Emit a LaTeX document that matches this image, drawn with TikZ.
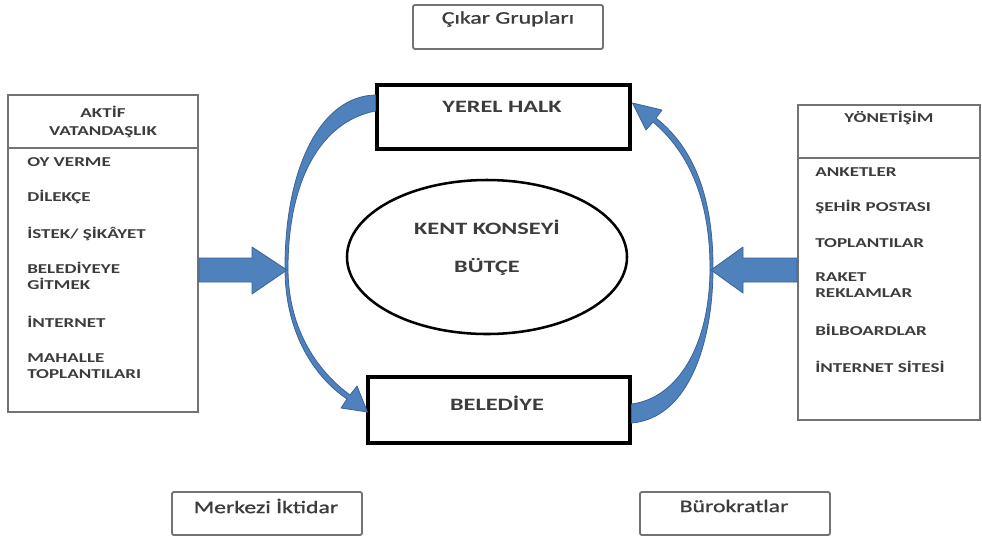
\documentclass[tikz,border=0pt]{standalone}
\usepackage{fontspec}
\setmainfont{Carlito}[FakeStretch=1.4]
\newfontfamily\mixfam{Carlito}[FakeStretch=1.35,FakeBold=1.2]
\usetikzlibrary{fit,calc,shapes.geometric}
\definecolor{ablue}{HTML}{4F81BD}
\definecolor{ablueedge}{HTML}{3A6397}
\definecolor{txt}{HTML}{3C3C3C}
\newcommand\itemfont{\fontsize{10.2}{12}\selectfont\bfseries}
\newcommand\headfont{\fontsize{10.2}{14}\selectfont\bfseries}
\newcommand\bigfont{\fontsize{13}{15}\selectfont\bfseries}
\newcommand\mixfont{\mixfam\fontsize{13.2}{15}\selectfont}
\tikzset{
  gbox/.style={draw=black!55, line width=1.4pt, inner sep=0pt},
  obox/.style={gbox, rounded corners=1.5pt},
  kbox/.style={draw=black, line width=2.3pt, inner sep=0pt},
  item/.style={anchor=west, inner sep=0pt, align=left, text=txt, font=\itemfont},
  head/.style={inner sep=0pt, align=center, text=txt, font=\headfont},
  big/.style={inner sep=0pt, text=txt, font=\bigfont},
  mix/.style={inner sep=0pt, text=txt, font=\mixfont},
  flow/.style={fill=ablue, draw=ablueedge, line width=0.6pt, line join=round},
}
\begin{document}
\begin{tikzpicture}[x=0.75pt,y=-0.75pt]
\useasboundingbox (0,0) rectangle (982,537);

% top / bottom outer boxes
\node[obox, fit={(413,5) (603,49)}] (cikar) {};
\node[mix] (cikart) at (508,19) {Çıkar Grupları};
\node[obox, fit={(172,492) (362,535)}] (merkez) {};
\node[mix] (merkezt) at (266,506) {Merkezi İktidar};
\node[obox, fit={(640,492) (830,535)}] (buro) {};
\node[mix] (burot) at (734,506) {Bürokratlar};

% left list box
\node[gbox, fit={(8,95) (198,412)}] (lbox) {};
\draw[black!55, line width=1.4pt] (lbox.west |- 0,148) coordinate (ld1) -- (lbox.east |- 0,148) coordinate (ld2);
\node[head] (lhead) at (103,122) {AKTİF\\VATANDAŞLIK};
\node[item] (l1) at (27,162) {OY VERME};
\node[item] (l2) at (27,197) {DİLEKÇE};
\node[item] (l3) at (27,234) {İSTEK/ ŞİKÂYET};
\node[item] (l4) at (27,276) {BELEDİYEYE\\GİTMEK};
\node[item] (l5) at (27,322) {İNTERNET};
\node[item] (l6) at (27,366) {MAHALLE\\TOPLANTILARI};

% right list box
\node[gbox, fit={(798,105) (980,420)}] (rbox) {};
\draw[black!55, line width=1.4pt] (rbox.west |- 0,158) coordinate (rd1) -- (rbox.east |- 0,158) coordinate (rd2);
\node[head] (rhead) at (889,118) {YÖNETİŞİM};
\node[item] (r1) at (815,172) {ANKETLER};
\node[item] (r2) at (815,207) {ŞEHİR POSTASI};
\node[item] (r3) at (815,243) {TOPLANTILAR};
\node[item] (r4) at (815,285) {RAKET\\REKLAMLAR};
\node[item] (r5) at (815,330) {BİLBOARDLAR};
\node[item] (r6) at (815,367) {İNTERNET SİTESİ};

% centre
\node[kbox, fit={(377,85) (630,149)}] (yh) {};
\node[big] (yht) at (502,107) {YEREL HALK};
\node[kbox, fit={(368,377) (630,443)}] (bel) {};
\node[big] (belt) at (497,403) {BELEDİYE};
\node[ellipse, draw=black, line width=1.9pt, minimum width={280*0.75pt}, minimum height={154*0.75pt}, inner sep=0pt] (kent) at (487,257) {};
\node[big] (kentt) at (487,227) {KENT KONSEYİ};
\node[big] (butce) at (487,267) {BÜTÇE};

% curved arrows
\path[flow] ($(yh.west)+(0,-22)$) .. controls (322,96) and (285,165) .. (285,268)
  .. controls (285,335) and (316,378) .. (347,399)
  -- (341,408) -- ($(bel.west)+(1,2)$) -- (357,386) -- (350,395)
  .. controls (320,373) and (288,332) .. (288,268)
  .. controls (288,185) and (318,122) .. ($(yh.west)+(0,-6)$) -- cycle;
\path[flow] ($(bel.east)+(0,13)$) .. controls (690,418) and (713,340) .. (713,268)
  .. controls (713,190) and (690,145) .. (656,118) -- (662,110) -- ($(yh.east)+(1,-14)$)
  -- (646,130) -- (653,122)
  .. controls (686,150) and (710,195) .. (710,268)
  .. controls (710,345) and (678,398) .. ($(bel.east)+(0,-6)$) -- cycle;

% straight block arrows
\path[flow] (lbox.east |- 0,258) -- (252,258) -- (252,247) -- (287,270) -- (252,294) -- (252,282) -- (lbox.east |- 0,282) -- cycle;
\path[flow] (rbox.west |- 0,258) -- (743,258) -- (743,247) -- (711,270) -- (743,293) -- (743,282) -- (rbox.west |- 0,282) -- cycle;
\end{tikzpicture}
\end{document}
